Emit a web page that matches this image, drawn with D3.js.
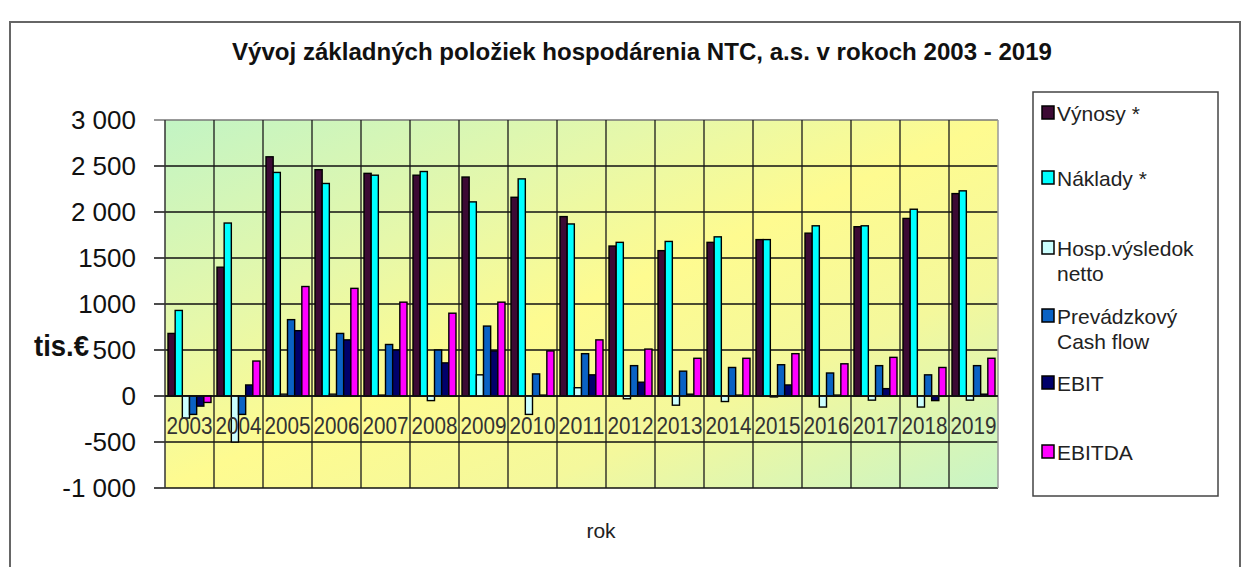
<!DOCTYPE html>
<meta charset="utf-8">

<!-- Load d3.js -->
<script src="https://d3js.org/d3.v7.min.js"></script>

<style>
  body { margin: 0; background: #fff; }
  text { font-family: "Liberation Sans Narrow", "Liberation Sans", Arial, sans-serif; }
</style>

<!-- Create a div where the graph will take place -->
<div id="my_dataviz"></div>

<script>

// years on the x axis
var years = ["2003","2004","2005","2006","2007","2008","2009","2010","2011",
             "2012","2013","2014","2015","2016","2017","2018","2019"];

// series values (tis. EUR)
var vynosy   = [680, 1400, 2600, 2460, 2420, 2400, 2380, 2160, 1950, 1630, 1580, 1670, 1700, 1770, 1840, 1930, 2200];
var naklady  = [930, 1880, 2430, 2310, 2400, 2440, 2110, 2360, 1870, 1670, 1680, 1730, 1700, 1850, 1850, 2030, 2230];
var hosp     = [-240, -500, 20, 20, 10, -50, 230, -200, 90, -30, -100, -60, -10, -120, -45, -120, -45];
var cashflow = [-200, -200, 830, 680, 560, 500, 760, 240, 460, 330, 270, 310, 340, 250, 330, 230, 330];
var ebit     = [-110, 120, 710, 610, 500, 360, 490, 10, 230, 150, 20, 10, 120, 10, 80, -50, 20];
var ebitda   = [-70, 380, 1190, 1170, 1020, 900, 1020, 490, 610, 510, 410, 410, 460, 350, 420, 310, 410];

// y axis ticks and their labels
var tickValues = [3000, 2500, 2000, 1500, 1000, 500, 0, -500, -1000];
var tickLabels = ["3 000", "2 500", "2 000", "1500", "1000", "500", "0", "-500", "-1 000"];

// legend names
var seriesNames = ["Výnosy *", "Náklady *", "Hosp.výsledok netto", "Prevádzkový Cash flow", "EBIT", "EBITDA"];
var seriesValues = [vynosy, naklady, hosp, cashflow, ebit, ebitda];
var colors = ["#3c0a34", "#00ffff", "#ccffff", "#0a62c4", "#00006a", "#ff00ff"];

var W = 1252, H = 567;
var plot = {left: 165, right: 998, top: 120, bottom: 488};

var svg = d3.select("#my_dataviz")
  .append("svg")
    .attr("width", W)
    .attr("height", H);

// outer frame
svg.append("rect")
  .attr("x", 10).attr("y", 22)
  .attr("width", 1230).attr("height", 560)
  .attr("fill", "none")
  .attr("stroke", "#666")
  .attr("stroke-width", 2);

// title
svg.append("text")
  .attr("x", 642)
  .attr("y", 60)
  .attr("text-anchor", "middle")
  .attr("font-size", "24px")
  .attr("font-weight", "bold")
  .attr("fill", "#111")
  .attr("textLength", 820)
  .attr("lengthAdjust", "spacingAndGlyphs")
  .text("Vývoj základných položiek hospodárenia NTC, a.s. v rokoch 2003 - 2019");

// scales
var x = d3.scaleBand()
  .domain(years)
  .range([plot.left, plot.right]);

var xSub = d3.scaleBand()
  .domain(d3.range(seriesNames.length))
  .range([3, x.bandwidth() - 3]);

var y = d3.scaleLinear()
  .domain([-1000, 3000])
  .range([plot.bottom, plot.top]);

// plot background gradient
var defs = svg.append("defs");
var grad = defs.append("linearGradient")
  .attr("id", "bg")
  .attr("x1", 0).attr("y1", 0)
  .attr("x2", 1).attr("y2", 1);
grad.append("stop").attr("offset", 0).attr("stop-color", "#c2f4c4");
grad.append("stop").attr("offset", 0.3).attr("stop-color", "#e6f8aa");
grad.append("stop").attr("offset", 0.5).attr("stop-color", "#fefb90");
grad.append("stop").attr("offset", 0.72).attr("stop-color", "#f4f89c");
grad.append("stop").attr("offset", 1).attr("stop-color", "#c8f4c6");

svg.append("rect")
  .attr("x", plot.left)
  .attr("y", plot.top)
  .attr("width", plot.right - plot.left)
  .attr("height", plot.bottom - plot.top)
  .attr("fill", "url(#bg)");

// horizontal gridlines
svg.append("g")
  .selectAll("line")
  .data(tickValues)
  .enter()
  .append("line")
    .attr("x1", plot.left - 11)
    .attr("x2", plot.right)
    .attr("y1", function(d) { return y(d); })
    .attr("y2", function(d) { return y(d); })
    .attr("stroke", function(d) { return d == 3000 ? "#777" : "#111"; })
    .attr("stroke-width", 1.6);

// vertical category separators
svg.append("g")
  .selectAll("line")
  .data(years.slice(1))
  .enter()
  .append("line")
    .attr("x1", function(d) { return x(d); })
    .attr("x2", function(d) { return x(d); })
    .attr("y1", plot.top)
    .attr("y2", plot.bottom)
    .attr("stroke", "#1a1a1a")
    .attr("stroke-width", 1.3);

// left axis line and right border
svg.append("line")
  .attr("x1", plot.left).attr("x2", plot.left)
  .attr("y1", plot.top).attr("y2", plot.bottom)
  .attr("stroke", "#333").attr("stroke-width", 1.5);
svg.append("line")
  .attr("x1", plot.right).attr("x2", plot.right)
  .attr("y1", plot.top).attr("y2", plot.bottom)
  .attr("stroke", "#999").attr("stroke-width", 1.5);

// y tick labels
svg.append("g")
  .selectAll("text")
  .data(tickValues)
  .enter()
  .append("text")
    .attr("x", 136)
    .attr("y", function(d) { return y(d); })
    .attr("dy", "0.36em")
    .attr("text-anchor", "end")
    .attr("font-size", "26px")
    .attr("fill", "#111")
    .style("font-family", "'Liberation Sans', Arial, sans-serif")
    .text(function(d, i) { return tickLabels[i]; });

// y axis title
svg.append("text")
  .attr("x", 34)
  .attr("y", 356)
  .attr("font-size", "29px")
  .attr("font-weight", "bold")
  .attr("fill", "#111")
  .attr("textLength", 55)
  .attr("lengthAdjust", "spacingAndGlyphs")
  .style("font-family", "'Liberation Sans', Arial, sans-serif")
  .text("tis.€");

// x axis title
svg.append("text")
  .attr("x", 601)
  .attr("y", 538)
  .attr("text-anchor", "middle")
  .attr("font-size", "21px")
  .attr("fill", "#222")
  .text("rok");

// bars, one group per year
var groups = svg.append("g")
  .selectAll("g")
  .data(years)
  .enter()
  .append("g")
    .attr("transform", function(d) { return "translate(" + x(d) + ",0)"; });

groups.selectAll("rect")
  .data(function(d, i) {
    return seriesValues.map(function(s, k) { return {k: k, v: s[i]}; });
  })
  .enter()
  .append("rect")
    .attr("x", function(d) { return xSub(d.k); })
    .attr("width", xSub.bandwidth())
    .attr("y", function(d) { return y(Math.max(0, d.v)); })
    .attr("height", function(d) { return Math.abs(y(d.v) - y(0)); })
    .attr("fill", function(d) { return colors[d.k]; })
    .attr("stroke", "#000")
    .attr("stroke-width", 1.4);

// zero line over bars
svg.append("line")
  .attr("x1", plot.left).attr("x2", plot.right)
  .attr("y1", y(0)).attr("y2", y(0))
  .attr("stroke", "#111").attr("stroke-width", 1.6);

// year labels inside the plot, under the zero line
svg.append("g")
  .selectAll("text")
  .data(years)
  .enter()
  .append("text")
    .attr("x", function(d) { return x(d) + x.bandwidth() / 2; })
    .attr("y", 434)
    .attr("text-anchor", "middle")
    .attr("font-size", "24px")
    .attr("fill", "#333")
    .attr("textLength", x.bandwidth() - 3)
    .attr("lengthAdjust", "spacingAndGlyphs")
    .text(function(d) { return d; });

// legend
var legend = svg.append("g");
legend.append("rect")
  .attr("x", 1033).attr("y", 92)
  .attr("width", 185).attr("height", 404)
  .attr("fill", "#fff")
  .attr("stroke", "#444")
  .attr("stroke-width", 1.5);

var legendY = [113, 178, 248, 316, 383, 452];

var item = legend.selectAll("g.item")
  .data(seriesNames)
  .enter()
  .append("g")
    .attr("class", "item")
    .attr("transform", function(d, i) { return "translate(1042," + legendY[i] + ")"; });

item.append("rect")
  .attr("x", 0).attr("y", -7)
  .attr("width", 12).attr("height", 13)
  .attr("fill", function(d, i) { return colors[i]; })
  .attr("stroke", "#000")
  .attr("stroke-width", 1.5);

item.append("text")
  .attr("x", 15)
  .attr("y", 0)
  .attr("font-size", "21px")
  .attr("fill", "#222")
  .each(function(d) {
    // two-word names wrap like the original
    var lines = d == "Hosp.výsledok netto" ? ["Hosp.výsledok", "netto"]
              : d == "Prevádzkový Cash flow" ? ["Prevádzkový", "Cash flow"]
              : [d];
    var t = d3.select(this);
    lines.forEach(function(l, j) {
      t.append("tspan")
        .attr("x", 15)
        .attr("dy", j == 0 ? "0.36em" : "1.2em")
        .text(l);
    });
  });

</script>
